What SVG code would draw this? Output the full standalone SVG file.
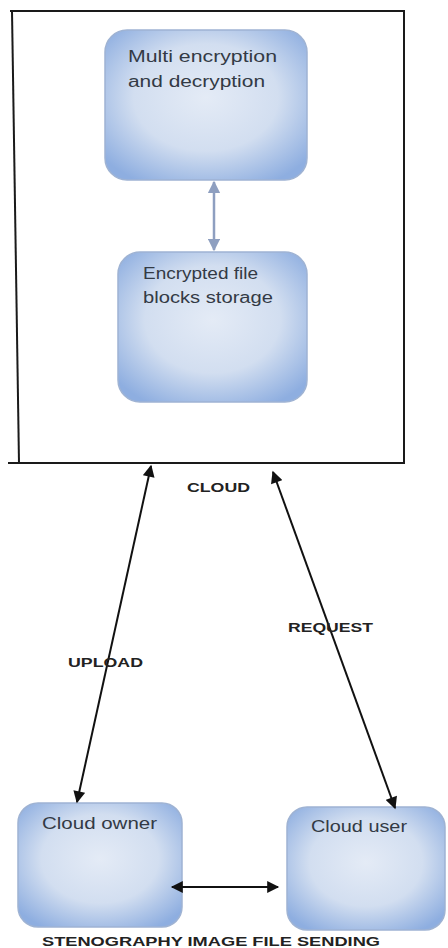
<svg xmlns="http://www.w3.org/2000/svg" width="448" height="948" viewBox="0 0 448 948">
  <defs>
    <radialGradient id="nodeFill" cx="50%" cy="45%" r="65%">
      <stop offset="0" stop-color="#e4ebf6"/>
      <stop offset="0.55" stop-color="#d2def0"/>
      <stop offset="1" stop-color="#8eaee0"/>
    </radialGradient>
    <marker id="ah" viewBox="0 0 10 10" refX="9" refY="5" markerWidth="7" markerHeight="6" orient="auto-start-reverse" markerUnits="strokeWidth">
      <path d="M0,0 L10,5 L0,10 z" fill="#111"/>
    </marker>
    <marker id="ahLight" viewBox="0 0 10 10" refX="9" refY="5" markerWidth="5" markerHeight="5" orient="auto-start-reverse" markerUnits="strokeWidth">
      <path d="M0,0 L10,5 L0,10 z" fill="#8e9fc0"/>
    </marker>
  </defs>
  <style>
    .node { fill: url(#nodeFill); stroke: #9fb3d3; stroke-width: 1.5; }
    .ntext { font-family: "Liberation Sans", Arial, sans-serif; font-size: 16px; fill: #333a45; }
    .lbl { font-family: "Liberation Sans", Arial, sans-serif; font-weight: bold; font-size: 13px; fill: #222; }
    .conn { stroke: #111; stroke-width: 2; fill: none; marker-start: url(#ah); marker-end: url(#ah); }
    .connLight { stroke: #8e9fc0; stroke-width: 2.5; fill: none; marker-start: url(#ahLight); marker-end: url(#ahLight); }
    .frame { stroke: #1a1a1a; stroke-width: 2; fill: none; }
  </style>
  <rect width="448" height="948" fill="#ffffff"/>

  <g id="cloud-frame">
    <path class="frame" d="M10,11 L404,11 L404,463 L8,463"/>
    <path class="frame" d="M12,11 L19,463"/>
  </g>

  <g id="node-multi-encryption">
    <rect class="node" x="105" y="30" width="202" height="150" rx="22"/>
    <text class="ntext" x="128" y="62" textLength="149" lengthAdjust="spacingAndGlyphs">Multi encryption</text>
    <text class="ntext" x="128" y="87" textLength="137" lengthAdjust="spacingAndGlyphs">and decryption</text>
  </g>

  <g id="node-encrypted-storage">
    <rect class="node" x="118" y="252" width="189" height="150" rx="22"/>
    <text class="ntext" x="143" y="279" textLength="115" lengthAdjust="spacingAndGlyphs">Encrypted file</text>
    <text class="ntext" x="143" y="303" textLength="130" lengthAdjust="spacingAndGlyphs">blocks storage</text>
  </g>

  <g id="node-cloud-owner">
    <rect class="node" x="18" y="803" width="164" height="124" rx="20"/>
    <text class="ntext" x="42" y="829" textLength="115" lengthAdjust="spacingAndGlyphs">Cloud owner</text>
  </g>

  <g id="node-cloud-user">
    <rect class="node" x="287" y="807" width="158" height="123" rx="20"/>
    <text class="ntext" x="311" y="832" textLength="96" lengthAdjust="spacingAndGlyphs">Cloud user</text>
  </g>

  <g id="connectors">
    <line class="connLight" x1="214" y1="182" x2="214" y2="250"/>
    <line class="conn" x1="151" y1="466" x2="77" y2="802"/>
    <line class="conn" x1="273" y1="472" x2="395" y2="808"/>
    <line class="conn" x1="172" y1="887" x2="278" y2="887"/>
  </g>

  <g id="labels">
    <text class="lbl" x="187" y="492" textLength="63" lengthAdjust="spacingAndGlyphs">CLOUD</text>
    <text class="lbl" x="68" y="667" textLength="75" lengthAdjust="spacingAndGlyphs">UPLOAD</text>
    <text class="lbl" x="288" y="632" textLength="85" lengthAdjust="spacingAndGlyphs">REQUEST</text>
    <text class="lbl" x="42" y="946" font-size="15" textLength="338" lengthAdjust="spacingAndGlyphs">STENOGRAPHY IMAGE FILE SENDING</text>
  </g>
</svg>
